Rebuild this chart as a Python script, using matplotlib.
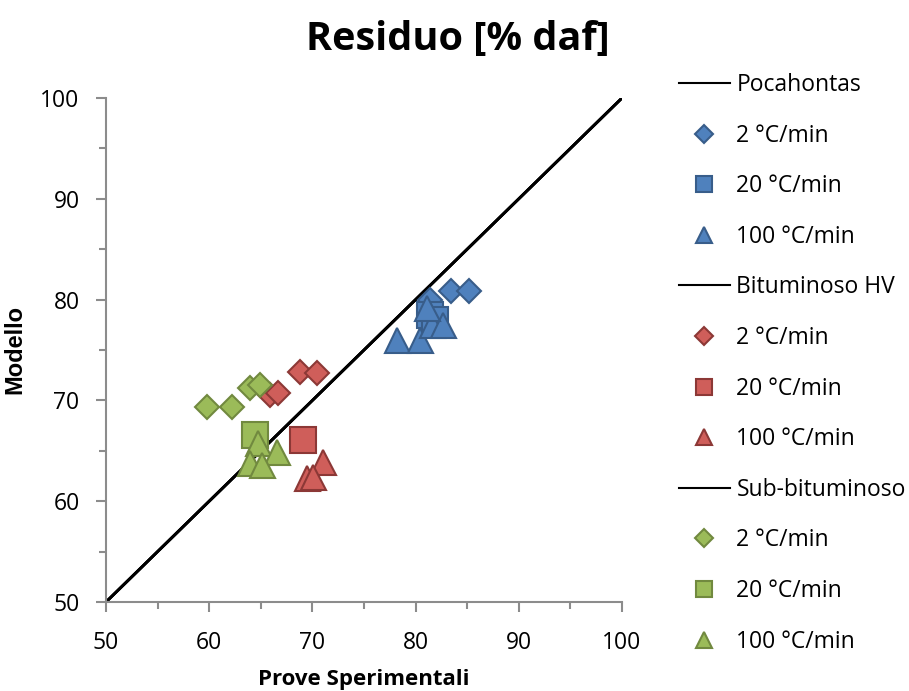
import matplotlib

matplotlib.use("Agg")
import matplotlib.pyplot as plt
from matplotlib.lines import Line2D
from matplotlib.ticker import MultipleLocator

plt.rcParams["font.family"] = ["Open Sans", "DejaVu Sans"]

# parity line (modello = sperimentale)
DIAG = [50, 100]

RATES = ["2 °C/min", "20 °C/min", "100 °C/min"]
MARKERS = ["D", "s", "^"]

# Pocahontas
poca_2_x = [83.4, 85.2, 81.4]
poca_2_y = [80.9, 80.9, 80.0]
poca_20_x = [81.4, 81.9]
poca_20_y = [78.5, 78.0]
poca_100_x = [78.2, 80.4, 81.6, 82.7, 81.1]
poca_100_y = [76.0, 76.0, 77.5, 77.5, 79.2]

# Bituminoso HV
bit_2_x = [68.8, 70.4, 65.9, 66.7]
bit_2_y = [72.8, 72.7, 70.5, 70.7]
bit_20_x = [69.1]
bit_20_y = [66.1]
bit_100_x = [71.0, 69.5, 70.1]
bit_100_y = [63.9, 62.3, 62.4]

# Sub-bituminoso
sub_2_x = [59.8, 62.2, 64.0, 64.9]
sub_2_y = [69.3, 69.3, 71.2, 71.5]
sub_20_x = [64.4]
sub_20_y = [66.6]
sub_100_x = [64.7, 66.6, 64.0, 65.1]
sub_100_y = [65.8, 64.9, 63.8, 63.6]

SERIES = [
    ("Pocahontas", "#4F81BD", "#385D8A",
     [(poca_2_x, poca_2_y), (poca_20_x, poca_20_y), (poca_100_x, poca_100_y)]),
    ("Bituminoso HV", "#CF5E5A", "#8C3836",
     [(bit_2_x, bit_2_y), (bit_20_x, bit_20_y), (bit_100_x, bit_100_y)]),
    ("Sub-bituminoso", "#9BBB59", "#71893F",
     [(sub_2_x, sub_2_y), (sub_20_x, sub_20_y), (sub_100_x, sub_100_y)]),
]

MSIZE = {"D": 12, "s": 19, "^": 18}
LEG_MSIZE = {"D": 9, "s": 11, "^": 11}

fig = plt.figure(figsize=(9.09, 6.91), dpi=100, facecolor="white")
ax = fig.add_axes([106 / 909, 1 - 602 / 691, 516 / 909, 504 / 691])

handles = []
for name, face, edge, groups in SERIES:
    ax.plot(DIAG, DIAG, color="black", lw=2, zorder=2)
    handles.append(Line2D([], [], color="black", lw=1.5, label=name))
    for (xs, ys), mk, rate in zip(groups, MARKERS, RATES):
        ax.plot(xs, ys, ls="none", marker=mk, ms=MSIZE[mk], mfc=face,
                mec=edge, mew=1.5, zorder=3)
        handles.append(Line2D([], [], ls="none", marker=mk, ms=LEG_MSIZE[mk],
                              mfc=face, mec=edge, mew=1.5, label=rate))

ax.set_xlim(50, 100)
ax.set_ylim(50, 100)
ax.xaxis.set_major_locator(MultipleLocator(10))
ax.yaxis.set_major_locator(MultipleLocator(10))
ax.xaxis.set_minor_locator(MultipleLocator(5))
ax.yaxis.set_minor_locator(MultipleLocator(5))
for side in ("top", "right"):
    ax.spines[side].set_visible(False)
for side in ("left", "bottom"):
    ax.spines[side].set_color("#8C8C8C")
    ax.spines[side].set_linewidth(1.5)
ax.tick_params(which="major", length=7, width=1.5, color="#8C8C8C",
               labelsize=16.5)
ax.tick_params(axis="x", which="major", pad=14)
ax.tick_params(axis="y", which="major", pad=12)
ax.tick_params(which="minor", length=5, width=1.5, color="#8C8C8C")

ax.set_xlabel("Prove Sperimentali", fontsize=16, fontweight="bold", labelpad=10)
ax.set_ylabel("Modello", fontsize=17, fontweight="bold", labelpad=10,
              family=["Liberation Sans", "DejaVu Sans"])
fig.text(458 / 909, 1 - 40 / 691, "Residuo [% daf]", fontsize=28.5,
         fontweight="bold", ha="center", va="center")

fig.legend(handles=handles, loc="upper left",
           bbox_to_anchor=(670 / 909, 1 - 64 / 691), frameon=False,
           fontsize=16.5, handlelength=2.2, handletextpad=0.3,
           labelspacing=1.16, borderaxespad=0)

fig.savefig("out.png", dpi=100, facecolor="white")
